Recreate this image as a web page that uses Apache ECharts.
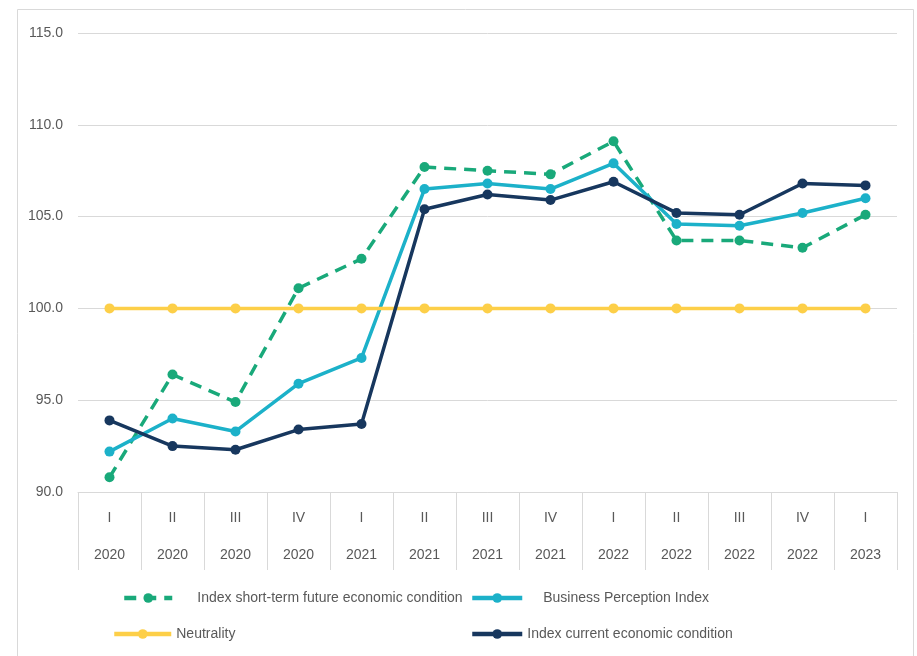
<!DOCTYPE html>
<html><head><meta charset="utf-8">
<script src="https://cdn.jsdelivr.net/npm/echarts@6/dist/echarts.min.js"></script>
<style>html,body{margin:0;padding:0;background:#fff}#c{width:917px;height:656px}</style>
</head><body><div id="c"></div>
<script>
var quarters = ['I','II','III','IV','I','II','III','IV','I','II','III','IV','I'];
var years = ['2020','2020','2020','2020','2021','2021','2021','2021','2022','2022','2022','2022','2023'];
var futureIdx = [90.8, 96.4, 94.9, 101.1, 102.7, 107.7, 107.5, 107.3, 109.1, 103.7, 103.7, 103.3, 105.1];
var perceptionIdx = [92.2, 94.0, 93.3, 95.9, 97.3, 106.5, 106.8, 106.5, 107.9, 104.6, 104.5, 105.2, 106.0];
var neutrality = [100, 100, 100, 100, 100, 100, 100, 100, 100, 100, 100, 100, 100];
var currentIdx = [93.9, 92.5, 92.3, 93.4, 93.7, 105.4, 106.2, 105.9, 106.9, 105.2, 105.1, 106.8, 106.7];
var yTicks = [90, 95, 100, 105, 110, 115];

var categories = quarters.map(function(q, i){ return q + '|' + years[i]; });
var FONT = '"Liberation Sans", sans-serif';
var TXT = '#595959';
var C_GREEN = '#19a97a', C_BLUE = '#1cb1c9', C_YEL = '#fdcf48', C_NAVY = '#17375e';

function legendCfg(name, left, top, w, pad){
  return {
    data: [name], left: left, top: top, itemWidth: w, itemHeight: 12, padding: 0,
    lineStyle: {width: 4.5},
    textStyle: {fontFamily: FONT, fontSize: 14, color: TXT, padding: [0,0,0,pad]},
    selectedMode: false
  };
}
function lineSeries(name, data, color, dashed){
  return {
    name: name, type: 'line', data: data, symbol: 'circle', symbolSize: 10,
    itemStyle: {color: color}, lineStyle: {color: color, width: 3.5, type: dashed ? [12, 8] : 'solid'},
    emphasis: {disabled: true}, animation: false
  };
}
var chart = echarts.init(document.getElementById('c'));
chart.setOption({
  animation: false,
  graphic: [{type: 'rect', shape: {x: 17.5, y: 9.5, width: 896, height: 660}, style: {fill: 'none', stroke: '#d9d9d9', lineWidth: 1}, silent: true}],
  grid: {left: 78, right: 20, top: 33, bottom: 164},
  xAxis: {
    type: 'category', data: categories, boundaryGap: true,
    axisLine: {show: true, lineStyle: {color: '#d9d9d9', width: 1}},
    axisTick: {show: true, length: 78, lineStyle: {color: '#d9d9d9'}},
    axisLabel: {
      margin: 8, interval: 0,
      formatter: function(v){ var p = v.split('|'); return '{q|' + p[0] + '}\n{y|' + p[1] + '}'; },
      rich: {
        q: {fontFamily: FONT, fontSize: 14, color: TXT, lineHeight: 37},
        y: {fontFamily: FONT, fontSize: 14, color: TXT, lineHeight: 37}
      }
    }
  },
  yAxis: {
    type: 'value', min: yTicks[0], max: yTicks[yTicks.length-1], interval: 5,
    axisLine: {show: false}, axisTick: {show: false},
    splitLine: {lineStyle: {color: '#d9d9d9', width: 1}},
    axisLabel: {margin: 15, fontFamily: FONT, fontSize: 14, color: TXT, formatter: function(v){ return v.toFixed(1); }}
  },
  legend: [
    legendCfg('Index short-term future economic condition', 122, 591, 48, 20),
    legendCfg('Business Perception Index', 470, 591, 50, 16),
    legendCfg('Neutrality', 112, 627, 57, 0),
    legendCfg('Index current economic condition', 470, 627, 50, 0)
  ],
  series: [
    lineSeries('Index short-term future economic condition', futureIdx, C_GREEN, true),
    lineSeries('Business Perception Index', perceptionIdx, C_BLUE, false),
    lineSeries('Neutrality', neutrality, C_YEL, false),
    lineSeries('Index current economic condition', currentIdx, C_NAVY, false)
  ]
});
</script></body></html>
